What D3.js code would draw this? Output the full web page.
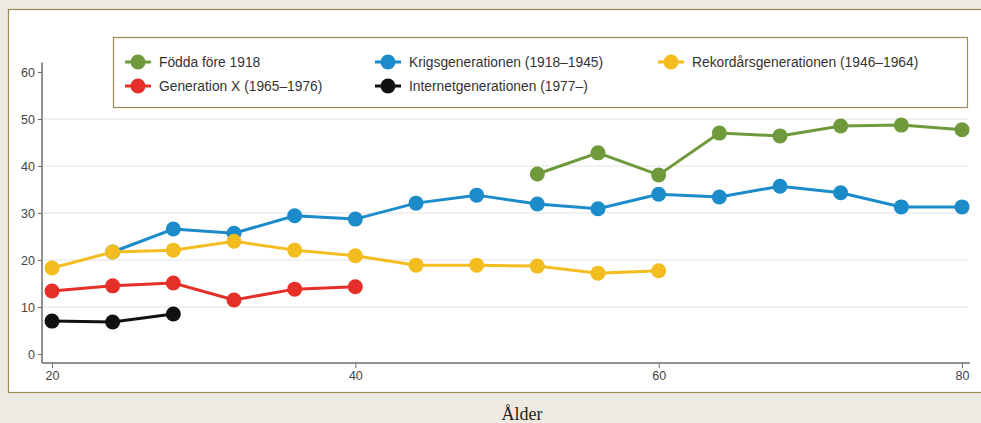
<!DOCTYPE html>
<html>
<head>
<meta charset="utf-8">
<script src="https://cdn.jsdelivr.net/npm/d3@7"></script>
<style>
  html, body { margin: 0; padding: 0; background: #edebe1; }
  svg { display: block; }
</style>
</head>
<body>
<svg id="chart" width="981" height="423"></svg>
<script>
// ages on the x axis
const ages = [20, 24, 28, 32, 36, 40, 44, 48, 52, 56, 60, 64, 68, 72, 76, 80];

// one value per age, null where the generation has no data
const fodda     = [null, null, null, null, null, null, null, null, 38.3, 42.8, 38.1, 47.0, 46.4, 48.5, 48.7, 47.7];
const krig      = [null, 21.7, 26.6, 25.7, 29.4, 28.7, 32.1, 33.8, 31.9, 30.9, 34.0, 33.4, 35.7, 34.3, 31.3, 31.3];
const rekord    = [18.3, 21.7, 22.1, 24.0, 22.1, 20.9, 18.9, 18.9, 18.7, 17.2, 17.7, null, null, null, null, null];
const genX      = [13.4, 14.5, 15.1, 11.5, 13.8, 14.3, null, null, null, null, null, null, null, null, null, null];
const internet  = [7.0, 6.8, 8.5, null, null, null, null, null, null, null, null, null, null, null, null, null];

const seriesNames = [
  "Födda före 1918",
  "Krigsgenerationen (1918–1945)",
  "Rekordårsgenerationen (1946–1964)",
  "Generation X (1965–1976)",
  "Internetgenerationen (1977–)"
];
const seriesValues = [fodda, krig, rekord, genX, internet];
const seriesColors = ["#6f9a3c", "#1b8bc9", "#f3bd1f", "#e5302a", "#111111"];

const xTicks = [20, 40, 60, 80];
const yTicks = [0, 10, 20, 30, 40, 50, 60];
const xTitle = "Ålder";

const svg = d3.select("#chart");

// white panel
svg.append("rect")
  .attr("x", 8.5).attr("y", 9.5)
  .attr("width", 990).attr("height", 383)
  .attr("fill", "#ffffff")
  .attr("stroke", "#9a8c55").attr("stroke-width", 1.2);

const x = d3.scaleLinear().domain([20, 80]).range([52, 962]);
const y = d3.scaleLinear().domain([0, 60]).range([354, 72]);

// gridlines
svg.append("g")
  .selectAll("line")
  .data(yTicks.filter(d => d > 0 && d < 60))
  .join("line")
  .attr("x1", 44).attr("x2", 968)
  .attr("y1", d => y(d)).attr("y2", d => y(d))
  .attr("stroke", "#ececec").attr("stroke-width", 1.3);

// y axis
const yAxis = svg.append("g")
  .attr("transform", "translate(42,0)")
  .call(d3.axisLeft(y).tickValues(yTicks).tickSize(4).tickPadding(3).tickSizeOuter(0));
yAxis.select(".domain").attr("d", `M0,${y(62)}V363`);

// x axis
const xAxis = svg.append("g")
  .attr("transform", "translate(0,363)")
  .call(d3.axisBottom(x).tickValues(xTicks).tickSize(5).tickPadding(3).tickSizeOuter(0));
xAxis.select(".domain").attr("d", "M42,0H970");

[yAxis, xAxis].forEach(a => {
  a.select(".domain").attr("stroke", "#6e6e6e").attr("stroke-width", 1.5);
  a.selectAll(".tick line").attr("stroke", "#6e6e6e");
  a.selectAll(".tick text")
    .attr("fill", "#444")
    .style("font-family", "'Liberation Sans', Arial, sans-serif")
    .style("font-size", "12.5px");
});

svg.append("text")
  .attr("x", 522).attr("y", 420)
  .attr("text-anchor", "middle")
  .style("font-family", "'Liberation Serif', 'Times New Roman', serif")
  .style("font-size", "18px")
  .attr("fill", "#222")
  .text(xTitle);

// lines and markers
const line = d3.line()
  .defined(d => d.v != null)
  .x(d => x(d.age))
  .y(d => y(d.v));

seriesValues.forEach((vals, i) => {
  const pts = ages.map((age, j) => ({ age, v: vals[j] }));
  const g = svg.append("g");
  g.append("path")
    .datum(pts)
    .attr("fill", "none")
    .attr("stroke", seriesColors[i])
    .attr("stroke-width", 3)
    .attr("d", line);
  g.selectAll("circle")
    .data(pts.filter(d => d.v != null))
    .join("circle")
    .attr("cx", d => x(d.age))
    .attr("cy", d => y(d.v))
    .attr("r", 7.5)
    .attr("fill", seriesColors[i]);
});

// legend
const legend = svg.append("g");
legend.append("rect")
  .attr("x", 113.5).attr("y", 37.5)
  .attr("width", 854).attr("height", 70)
  .attr("fill", "#ffffff")
  .attr("stroke", "#9a8c55").attr("stroke-width", 1.2);

const legendPos = [
  [138, 62], [388, 62], [671, 62],
  [138, 86], [388, 86]
];
seriesNames.forEach((name, i) => {
  const [lx, ly] = legendPos[i];
  const item = legend.append("g").attr("transform", `translate(${lx},${ly})`);
  item.append("line")
    .attr("x1", -13).attr("x2", 13)
    .attr("stroke", seriesColors[i]).attr("stroke-width", 3);
  item.append("circle").attr("r", 7.5).attr("fill", seriesColors[i]);
  item.append("text")
    .attr("x", 21).attr("y", 0).attr("dy", "0.35em")
    .attr("fill", "#333")
    .style("font-family", "'Liberation Sans', Arial, sans-serif")
    .style("font-size", "13.8px")
    .text(name);
});
</script>
</body>
</html>
